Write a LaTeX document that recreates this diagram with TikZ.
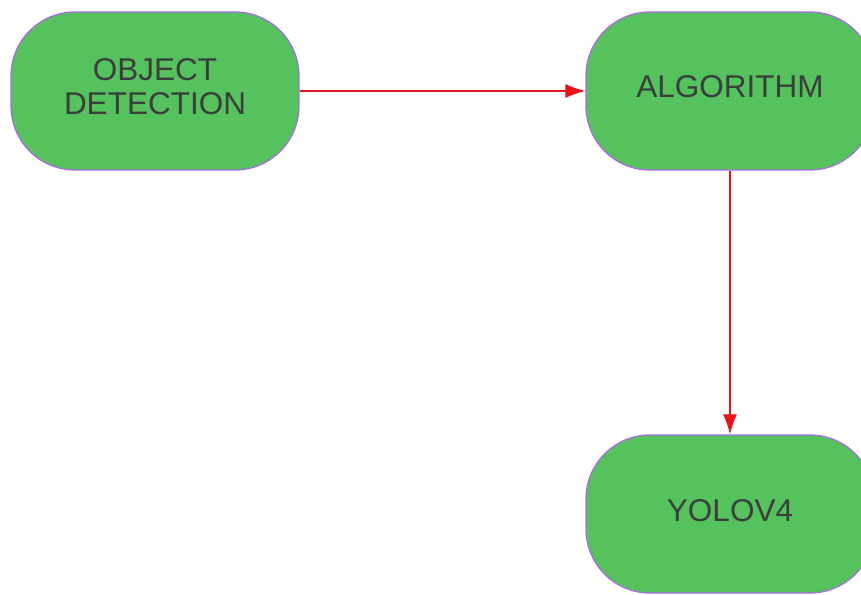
\documentclass[tikz,border=0pt]{standalone}
\usepackage{fontspec}
\setmainfont{Liberation Sans}
\usepackage{xcolor}
\usetikzlibrary{arrows.meta}
\definecolor{boxgreen}{HTML}{55C25D}
\definecolor{boxedge}{HTML}{A86FE0}
\definecolor{boxtext}{HTML}{3A3F3C}
\definecolor{linkred}{HTML}{E8141A}
\begin{document}
\begin{tikzpicture}[x=1pt,y=-1pt,
  stage/.style={draw=boxedge, line width=1.3pt, fill=boxgreen, rounded corners=64pt,
    minimum width=288pt, minimum height=158pt, align=center, text=boxtext,
    text depth=8pt, font=\fontsize{31.5}{34}\selectfont},
  link/.style={draw=linkred, line width=1.2pt, -{Latex[length=20pt,width=14pt]}}]
\useasboundingbox (0,0) rectangle (861,594);
\node[stage] (od) at (155,91) {OBJECT\\DETECTION};
\node[stage] (alg) at (730,91) {ALGORITHM};
\node[stage] (yolo) at (730,514) {YOLOV4};

\draw[link] (od) -- (alg);
\draw[link] (alg) -- (yolo);
\end{tikzpicture}
\end{document}
